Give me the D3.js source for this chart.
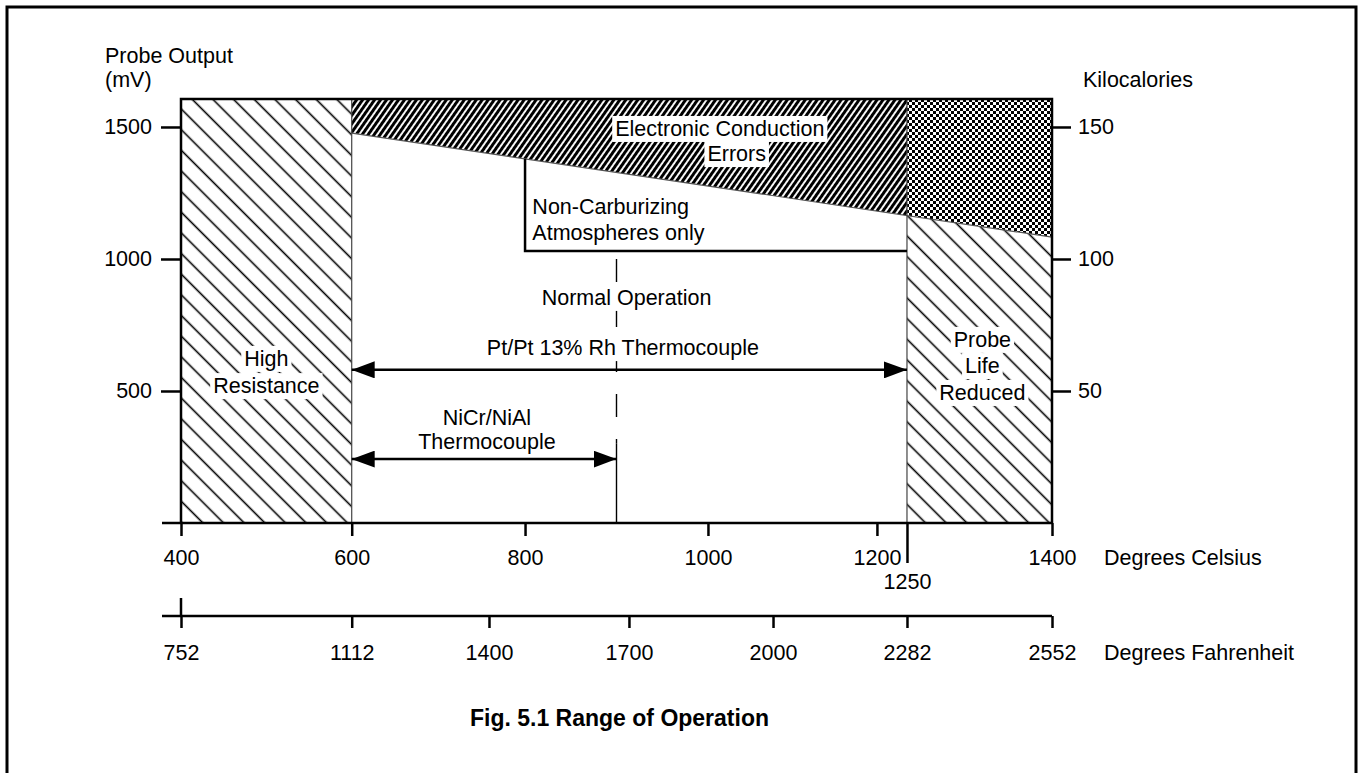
<!DOCTYPE html>
<html>
<head>
<meta charset="utf-8">
<script src="https://cdn.jsdelivr.net/npm/d3@7"></script>
<style>
body { margin: 0; background: #fff; }
text { font-family: "Liberation Sans", Arial, Helvetica, sans-serif; font-size: 21.5px; fill: #000; }
</style>
</head>
<body>
<div id="chart"></div>
<script>
// values
var celsiusTicks = [400, 600, 800, 1000, 1200, 1400];
var celsiusExtra = [1250];
var fahrenheitTicks = [752, 1112, 1400, 1700, 2000, 2282, 2552];
var mvTicks = [500, 1000, 1500];
var kcalTicks = [50, 100, 150];
var mvTop = 1606;

// the drawing is not to scale, so both temperature axes are piecewise
var celsiusKnots = [400, 600, 800, 1000, 1200, 1250, 1400];
var celsiusFrac = [0, 0.196, 0.395, 0.605, 0.799, 0.8335, 1];
var fahrenheitFrac = [0, 0.196, 0.3536, 0.5143, 0.6797, 0.8335, 1];

var zoneBounds = [400, 600, 1250, 1400];
var conductionEdge = [[600, 1477], [1400, 1083]];   // [degC, mV]
var nonCarbStart = 800, nonCarbFloor = 1030;
var normalLine = {c: 900, dashFrom: 1000, solidFrom: 300};
var ranges = [
  {from: 600, to: 1250, mv: 580},
  {from: 600, to: 900, mv: 242}
];

var labels = [
  {lines: ["Electronic Conduction"], c: 1014, mv: [1466], bg: true},
  {lines: ["Errors"], c: 1034, mv: [1371], bg: true},
  {lines: ["Non-Carburizing", "Atmospheres only"], c: 808, mv: [1170, 1072], anchor: "start"},
  {lines: ["Normal Operation"], c: 911, mv: [826], bg: true},
  {lines: ["Pt/Pt 13% Rh Thermocouple"], c: 907, mv: [636], bg: true},
  {lines: ["NiCr/NiAl", "Thermocouple"], c: 756, mv: [371, 280]},
  {lines: ["High", "Resistance"], c: 500, mv: [595, 492], bg: true},
  {lines: ["Probe", "Life", "Reduced"], c: 1328, mv: [667, 568, 466], bg: true}
];

var W = 1363, H = 773;
var plot = {left: 181, right: 1052, top: 99, bottom: 523};
var axisF = 616;
var font = '"Liberation Sans", Arial, Helvetica, sans-serif';

var svg = d3.select("#chart").append("svg")
    .attr("width", W)
    .attr("height", H);

var span = plot.right - plot.left;
var x = d3.scaleLinear()
    .domain(celsiusKnots)
    .range(celsiusFrac.map(function(f) { return plot.left + f * span; }));
var xF = d3.scaleLinear()
    .domain(fahrenheitTicks)
    .range(fahrenheitFrac.map(function(f) { return plot.left + f * span; }));
var y = d3.scaleLinear().domain([0, mvTop]).range([plot.bottom, plot.top]);
var yK = d3.scaleLinear().domain([0, mvTop / 10]).range([plot.bottom, plot.top]);

// the boundary is a straight line on paper
var edgeY = d3.scaleLinear()
    .domain([x(conductionEdge[0][0]), x(conductionEdge[1][0])])
    .range([y(conductionEdge[0][1]), y(conductionEdge[1][1])]);

var defs = svg.append("defs");
var hatch = defs.append("pattern")
    .attr("id", "hatch")
    .attr("patternUnits", "userSpaceOnUse")
    .attr("width", 14.6).attr("height", 14.6)
    .attr("patternTransform", "rotate(45)");
hatch.append("rect").attr("width", 14.6).attr("height", 14.6).attr("fill", "#fff");
hatch.append("line")
    .attr("x1", 0).attr("x2", 14.6).attr("y1", 7.3).attr("y2", 7.3)
    .attr("stroke", "#000").attr("stroke-width", 1.6);

var stripes = defs.append("pattern")
    .attr("id", "stripes")
    .attr("patternUnits", "userSpaceOnUse")
    .attr("width", 4.9).attr("height", 10)
    .attr("patternTransform", "rotate(35)");
stripes.append("rect").attr("width", 4.9).attr("height", 10).attr("fill", "#fff");
stripes.append("rect").attr("width", 3).attr("height", 10).attr("fill", "#000");

var checker = defs.append("pattern")
    .attr("id", "checker")
    .attr("patternUnits", "userSpaceOnUse")
    .attr("width", 6).attr("height", 6);
checker.append("rect").attr("width", 6).attr("height", 6).attr("fill", "#fff");
checker.append("rect").attr("width", 3).attr("height", 3).attr("fill", "#000");
checker.append("rect").attr("x", 3).attr("y", 3).attr("width", 3).attr("height", 3).attr("fill", "#000");

defs.append("marker")
    .attr("id", "arrow")
    .attr("viewBox", "0 0 23 17")
    .attr("refX", 23).attr("refY", 8.5)
    .attr("markerWidth", 23).attr("markerHeight", 17)
    .attr("markerUnits", "userSpaceOnUse")
    .attr("orient", "auto-start-reverse")
  .append("path")
    .attr("d", "M0,0L23,8.5L0,17Z")
    .attr("fill", "#000");

// outer frame
svg.append("rect")
    .attr("x", 7).attr("y", 7)
    .attr("width", W - 14).attr("height", H + 20)
    .attr("fill", "none").attr("stroke", "#000").attr("stroke-width", 3);

var g = svg.append("g");
var line = d3.line();

// zones
var xa = x(zoneBounds[0]), xb = x(zoneBounds[1]), xc = x(zoneBounds[2]), xd = x(zoneBounds[3]);
g.append("rect")
    .attr("x", xa).attr("y", plot.top)
    .attr("width", xb - xa).attr("height", plot.bottom - plot.top)
    .attr("fill", "url(#hatch)");
g.append("path")
    .attr("d", line([[xb, plot.top], [xc, plot.top], [xc, edgeY(xc)], [xb, edgeY(xb)]]) + "Z")
    .attr("fill", "url(#stripes)");
g.append("path")
    .attr("d", line([[xc, plot.top], [xd, plot.top], [xd, edgeY(xd)], [xc, edgeY(xc)]]) + "Z")
    .attr("fill", "url(#checker)");
g.append("path")
    .attr("d", line([[xc, edgeY(xc)], [xd, edgeY(xd)], [xd, plot.bottom], [xc, plot.bottom]]) + "Z")
    .attr("fill", "url(#hatch)");
g.append("path")
    .attr("d", line([[xb, edgeY(xb)], [xd, edgeY(xd)]]))
    .attr("stroke", "#555").attr("stroke-width", 1.2).attr("fill", "none");

g.selectAll(".zone-edge")
    .data([zoneBounds[1], zoneBounds[2]])
    .enter().append("line")
    .attr("class", "zone-edge")
    .attr("x1", function(d) { return x(d); }).attr("x2", function(d) { return x(d); })
    .attr("y1", plot.top).attr("y2", plot.bottom)
    .attr("stroke", "#444").attr("stroke-width", 1.2);

// non-carburizing box
var xn = x(nonCarbStart);
g.append("path")
    .attr("d", "M" + xn + "," + edgeY(xn) + "V" + y(nonCarbFloor) + "H" + xc)
    .attr("stroke", "#000").attr("stroke-width", 2.5).attr("fill", "none");

// normal operation line at 900 C
g.append("line")
    .attr("x1", x(normalLine.c)).attr("x2", x(normalLine.c))
    .attr("y1", y(normalLine.dashFrom)).attr("y2", y(normalLine.solidFrom))
    .attr("stroke", "#000").attr("stroke-width", 1.4)
    .attr("stroke-dasharray", "23,22");
g.append("line")
    .attr("x1", x(normalLine.c)).attr("x2", x(normalLine.c))
    .attr("y1", y(normalLine.solidFrom)).attr("y2", y(0))
    .attr("stroke", "#000").attr("stroke-width", 1.4);

// thermocouple ranges
g.selectAll(".range")
    .data(ranges)
    .enter().append("line")
    .attr("class", "range")
    .attr("x1", function(d) { return x(d.from); })
    .attr("x2", function(d) { return x(d.to); })
    .attr("y1", function(d) { return y(d.mv); })
    .attr("y2", function(d) { return y(d.mv); })
    .attr("stroke", "#000").attr("stroke-width", 2.5)
    .attr("marker-start", "url(#arrow)")
    .attr("marker-end", "url(#arrow)");

// plot border (top, left, right)
g.append("path")
    .attr("d", "M" + xa + "," + plot.bottom + "V" + plot.top + "H" + xd + "V" + plot.bottom)
    .attr("stroke", "#000").attr("stroke-width", 2.5).attr("fill", "none");

// annotation labels
labels.forEach(function(l) {
  var lg = g.append("g");
  l.lines.forEach(function(t, i) {
    var txt = lg.append("text")
        .attr("x", x(l.c))
        .attr("y", y(l.mv[i]))
        .attr("text-anchor", l.anchor || "middle")
        .text(t);
    if (l.bg) {
      var b = txt.node().getBBox();
      lg.insert("rect", "text")
          .attr("x", b.x - 3).attr("y", b.y - 1)
          .attr("width", b.width + 6).attr("height", b.height + 2)
          .attr("fill", "#fff");
    }
  });
});

// axes
function styleAxis(sel) {
  sel.select(".domain").remove();
  sel.selectAll(".tick line").attr("stroke", "#000").attr("stroke-width", 2.5);
  sel.selectAll(".tick text")
      .style("font-family", font)
      .style("font-size", "21.5px")
      .attr("fill", "#000");
}

svg.append("g")
    .attr("transform", "translate(" + xa + ",0)")
    .call(d3.axisLeft(y).tickValues(mvTicks).tickSize(20).tickPadding(9).tickFormat(d3.format("d")))
    .call(styleAxis);

svg.append("g")
    .attr("transform", "translate(" + xd + ",0)")
    .call(d3.axisRight(yK).tickValues(kcalTicks).tickSize(19).tickPadding(7).tickFormat(d3.format("d")))
    .call(styleAxis);

svg.append("line")
    .attr("x1", 162).attr("x2", xd)
    .attr("y1", plot.bottom).attr("y2", plot.bottom)
    .attr("stroke", "#000").attr("stroke-width", 2.5);
svg.append("g")
    .attr("transform", "translate(0," + plot.bottom + ")")
    .call(d3.axisBottom(x).tickValues(celsiusTicks).tickSize(13).tickPadding(14).tickFormat(d3.format("d")))
    .call(styleAxis);
svg.append("g")
    .attr("transform", "translate(0," + plot.bottom + ")")
    .call(d3.axisBottom(x).tickValues(celsiusExtra).tickSize(40).tickPadding(11).tickFormat(d3.format("d")))
    .call(styleAxis);

svg.append("line")
    .attr("x1", 162).attr("x2", xd)
    .attr("y1", axisF).attr("y2", axisF)
    .attr("stroke", "#000").attr("stroke-width", 2.5);
svg.append("line")
    .attr("x1", xF(fahrenheitTicks[0])).attr("x2", xF(fahrenheitTicks[0]))
    .attr("y1", axisF - 18).attr("y2", axisF)
    .attr("stroke", "#000").attr("stroke-width", 2.5);
svg.append("g")
    .attr("transform", "translate(0," + axisF + ")")
    .call(d3.axisBottom(xF).tickValues(fahrenheitTicks).tickSize(12).tickPadding(17).tickFormat(d3.format("d")))
    .call(styleAxis);

// axis titles
svg.append("text").attr("x", 105).attr("y", 63).text("Probe Output");
svg.append("text").attr("x", 105).attr("y", 87).text("(mV)");
svg.append("text").attr("x", 1083).attr("y", 87).text("Kilocalories");
svg.append("text").attr("x", 1104).attr("y", 565).text("Degrees Celsius");
svg.append("text").attr("x", 1104).attr("y", 660).text("Degrees Fahrenheit");

svg.append("text")
    .attr("x", x(normalLine.c) + 3)
    .attr("y", 726)
    .attr("text-anchor", "middle")
    .style("font-weight", "bold")
    .style("font-size", "23px")
    .text("Fig. 5.1 Range of Operation");
</script>
</body>
</html>
